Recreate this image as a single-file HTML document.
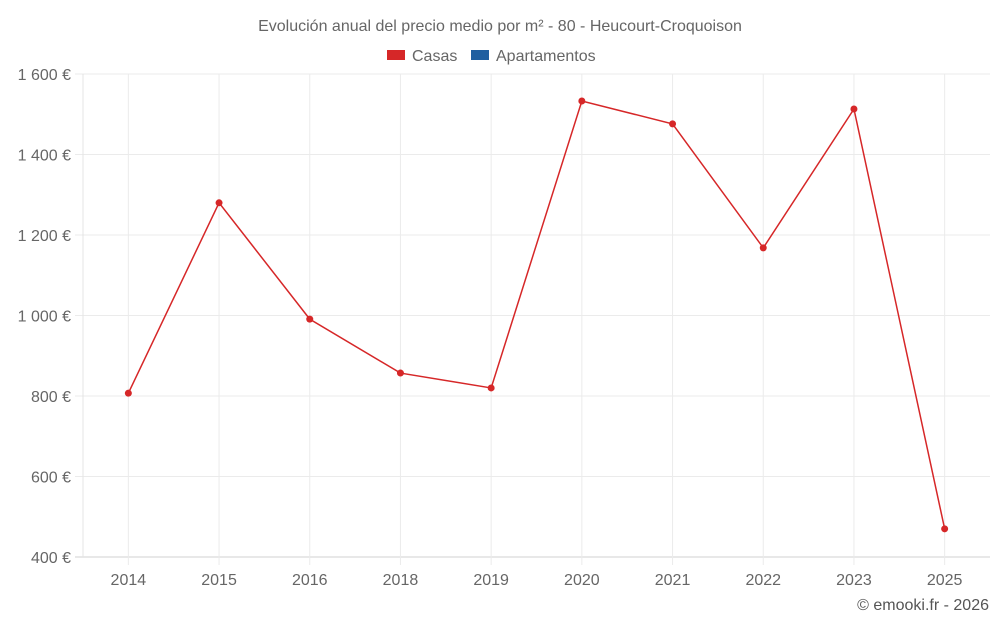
<!DOCTYPE html>
<html><head><meta charset="utf-8"><style>
body{margin:0;background:#fff;font-family:"Liberation Sans",sans-serif;}
svg text{font-family:"Liberation Sans",sans-serif;}
</style></head><body>
<svg id="chart" width="1000" height="625" xmlns="http://www.w3.org/2000/svg">
<text x="500" y="31" text-anchor="middle" font-size="16" fill="#666">Evolución anual del precio medio por m² - 80 - Heucourt-Croquoison</text>
<g><rect x="387" y="50" width="18" height="10" fill="#d62728"/><text x="412" y="61" font-size="16" fill="#666">Casas</text></g>
<g><rect x="471" y="50" width="18" height="10" fill="#1f5fa0"/><text x="496" y="61" font-size="16" fill="#666">Apartamentos</text></g>
<g id="grid"></g><g id="axes"></g><g id="series"></g>
<text x="989" y="610" text-anchor="end" font-size="16" fill="#555">© emooki.fr - 2026</text>
</svg>
<script>
const categories=["2014","2015","2016","2018","2019","2020","2021","2022","2023","2025"];
const casas=[807,1280,991,857,820,1533,1476,1168,1513,470];
const yTicks=[400,600,800,1000,1200,1400,1600];
const yTickLabels=["400 €","600 €","800 €","1 000 €","1 200 €","1 400 €","1 600 €"];
const NS="http://www.w3.org/2000/svg";
const L=83,R=990,T=74,B=557,yMin=400,yMax=1600;
const bw=(R-L)/categories.length;
const x=i=>L+bw*(i+0.5);
const y=v=>B-(v-yMin)/(yMax-yMin)*(B-T);
function mk(tag,attrs,parent){const e=document.createElementNS(NS,tag);for(const k in attrs)e.setAttribute(k,attrs[k]);parent.appendChild(e);return e;}
const grid=document.getElementById('grid'),axes=document.getElementById('axes'),series=document.getElementById('series');
yTicks.forEach((v,i)=>{
 const g=mk('line',{x1:L-8,x2:R,y1:y(v),y2:y(v),stroke:i==0?'#d0d0d0':'#ebebeb'},grid);
 
 
 const t=mk('text',{x:L-12,y:y(v)+6,'text-anchor':'end','font-size':16,fill:'#666'},axes);
 t.textContent=yTickLabels[i];
 
 
});
const ya=mk('line',{x1:L,x2:L,y1:T,y2:B,stroke:'#e4e4e4'},grid);


categories.forEach((c,i)=>{
 const g=mk('line',{x1:x(i),x2:x(i),y1:T,y2:B+8,stroke:'#ebebeb'},grid);
 
 
 const t=mk('text',{x:x(i),y:B+28,'text-anchor':'middle','font-size':16,fill:'#666'},axes);
 t.textContent=c;
 
 
});
const line=mk('polyline',{points:casas.map((v,i)=>x(i)+','+y(v)).join(' '),fill:'none',stroke:'#d62728','stroke-width':1.5},series);


casas.forEach((v,i)=>{
 const p=mk('circle',{cx:x(i),cy:y(v),r:3.5,fill:'#d62728'},series);
 
 
});
</script>
</body></html>
